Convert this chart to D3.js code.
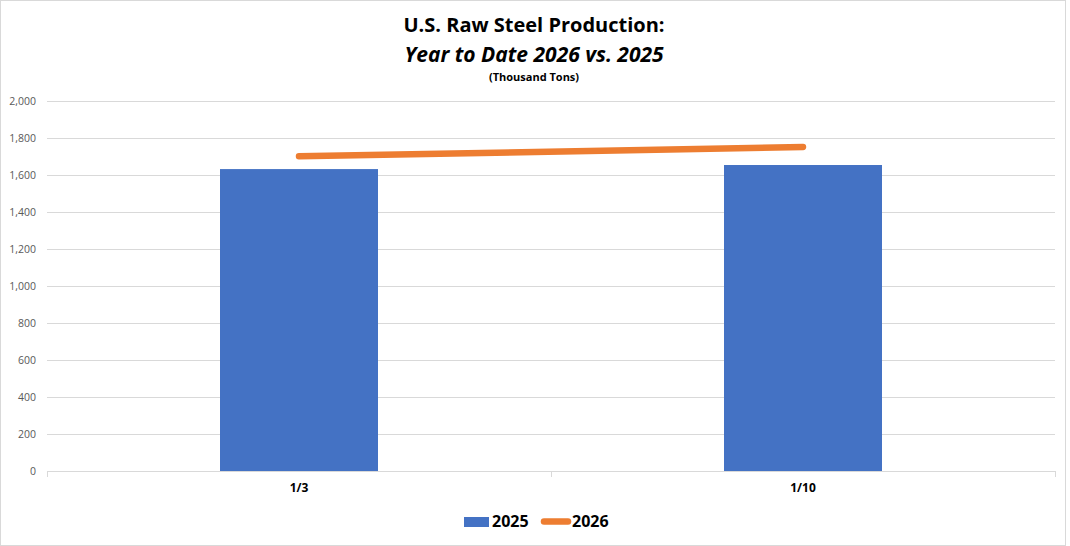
<!DOCTYPE html>
<html><head><meta charset="utf-8">
<script src="https://cdn.jsdelivr.net/npm/d3@7"></script>
<style>body{margin:0;background:#fff}svg{display:block}</style>
</head><body>
<svg id="c" width="1070" height="546"></svg>
<script>
const categories = ["1/3", "1/10"];
const values2025 = [1632, 1654];
const values2026 = [1701, 1751];
const yTicks = [0, 200, 400, 600, 800, 1000, 1200, 1400, 1600, 1800, 2000];
const seriesNames = ["2025", "2026"];
const colors = ["#4472C4", "#ED7D31"];

const svg = d3.select("#c");
const font = "'Open Sans', sans-serif";
svg.append("rect").attr("x",0.5).attr("y",0.5).attr("width",1065).attr("height",545)
  .attr("fill","#fff").attr("stroke","#d9d9d9");

const x = d3.scaleBand().domain(categories).range([47,1055]).paddingInner(0).paddingOuter(0);
const y = d3.scaleLinear().domain([0,2000]).range([471,101]);

svg.append("g").selectAll("line").data(yTicks.filter(d=>d>0)).join("line")
  .attr("x1",47).attr("x2",1055).attr("y1",d=>y(d)+0.5).attr("y2",d=>y(d)+0.5)
  .attr("stroke","#d9d9d9").attr("stroke-width",1);

const yAxis = d3.axisLeft(y).tickValues(yTicks).tickSize(0).tickPadding(0).tickFormat(d3.format(","));
const ya = svg.append("g").attr("transform","translate(36,0)").call(yAxis);
ya.select(".domain").remove();
ya.selectAll("text").attr("font-family",font).attr("font-size",10.5).attr("fill","#595959").attr("dy","0.35em");

const bw = 158;
svg.append("g").selectAll("rect").data(values2025).join("rect")
  .attr("x",(d,i)=>x(categories[i])+x.bandwidth()/2-bw/2)
  .attr("width",bw)
  .attr("y",d=>y(d)).attr("height",d=>y(0)-y(d))
  .attr("fill",colors[0]);

const xAxis = d3.axisBottom(x).tickSize(0).tickPadding(0);
const xa = svg.append("g").attr("transform","translate(0,471)").call(xAxis);
xa.select(".domain").remove();
xa.selectAll("text").attr("font-family",font).attr("font-size",12).attr("font-weight","bold").attr("fill","#000").attr("dy","1.75em");
svg.append("line").attr("x1",47).attr("x2",1055).attr("y1",471.5).attr("y2",471.5).attr("stroke","#d9d9d9");
svg.append("g").selectAll("line").data([47,551,1055]).join("line")
  .attr("x1",d=>d+0.5).attr("x2",d=>d+0.5).attr("y1",471).attr("y2",477).attr("stroke","#d9d9d9");

const line = d3.line().x((d,i)=>x(categories[i])+x.bandwidth()/2).y(d=>y(d));
svg.append("path").datum(values2026).attr("d",line).attr("fill","none")
  .attr("stroke",colors[1]).attr("stroke-width",6.5).attr("stroke-linecap","round");

svg.append("text").attr("x",534).attr("y",32).attr("text-anchor","middle")
  .attr("font-family",font).attr("font-size",20).attr("font-weight","bold").text("U.S. Raw Steel Production:");
svg.append("text").attr("x",534).attr("y",62).attr("text-anchor","middle")
  .attr("font-family",font).attr("font-size",21).attr("font-weight","bold").attr("font-style","italic").text("Year to Date 2026 vs. 2025");
svg.append("text").attr("x",534).attr("y",81).attr("text-anchor","middle")
  .attr("font-family",font).attr("font-size",11).attr("font-weight","bold").text("(Thousand Tons)");

const lg = svg.append("g");
lg.append("rect").attr("x",464).attr("y",517).attr("width",25).attr("height",10).attr("fill",colors[0]);
lg.append("text").attr("x",492).attr("y",527).attr("font-family",font).attr("font-size",16).attr("font-weight","bold").text(seriesNames[0]);
lg.append("line").attr("x1",544).attr("x2",568).attr("y1",521.5).attr("y2",521.5).attr("stroke",colors[1]).attr("stroke-width",6.5).attr("stroke-linecap","round");
lg.append("text").attr("x",572).attr("y",527).attr("font-family",font).attr("font-size",16).attr("font-weight","bold").text(seriesNames[1]);
</script>
</body></html>
